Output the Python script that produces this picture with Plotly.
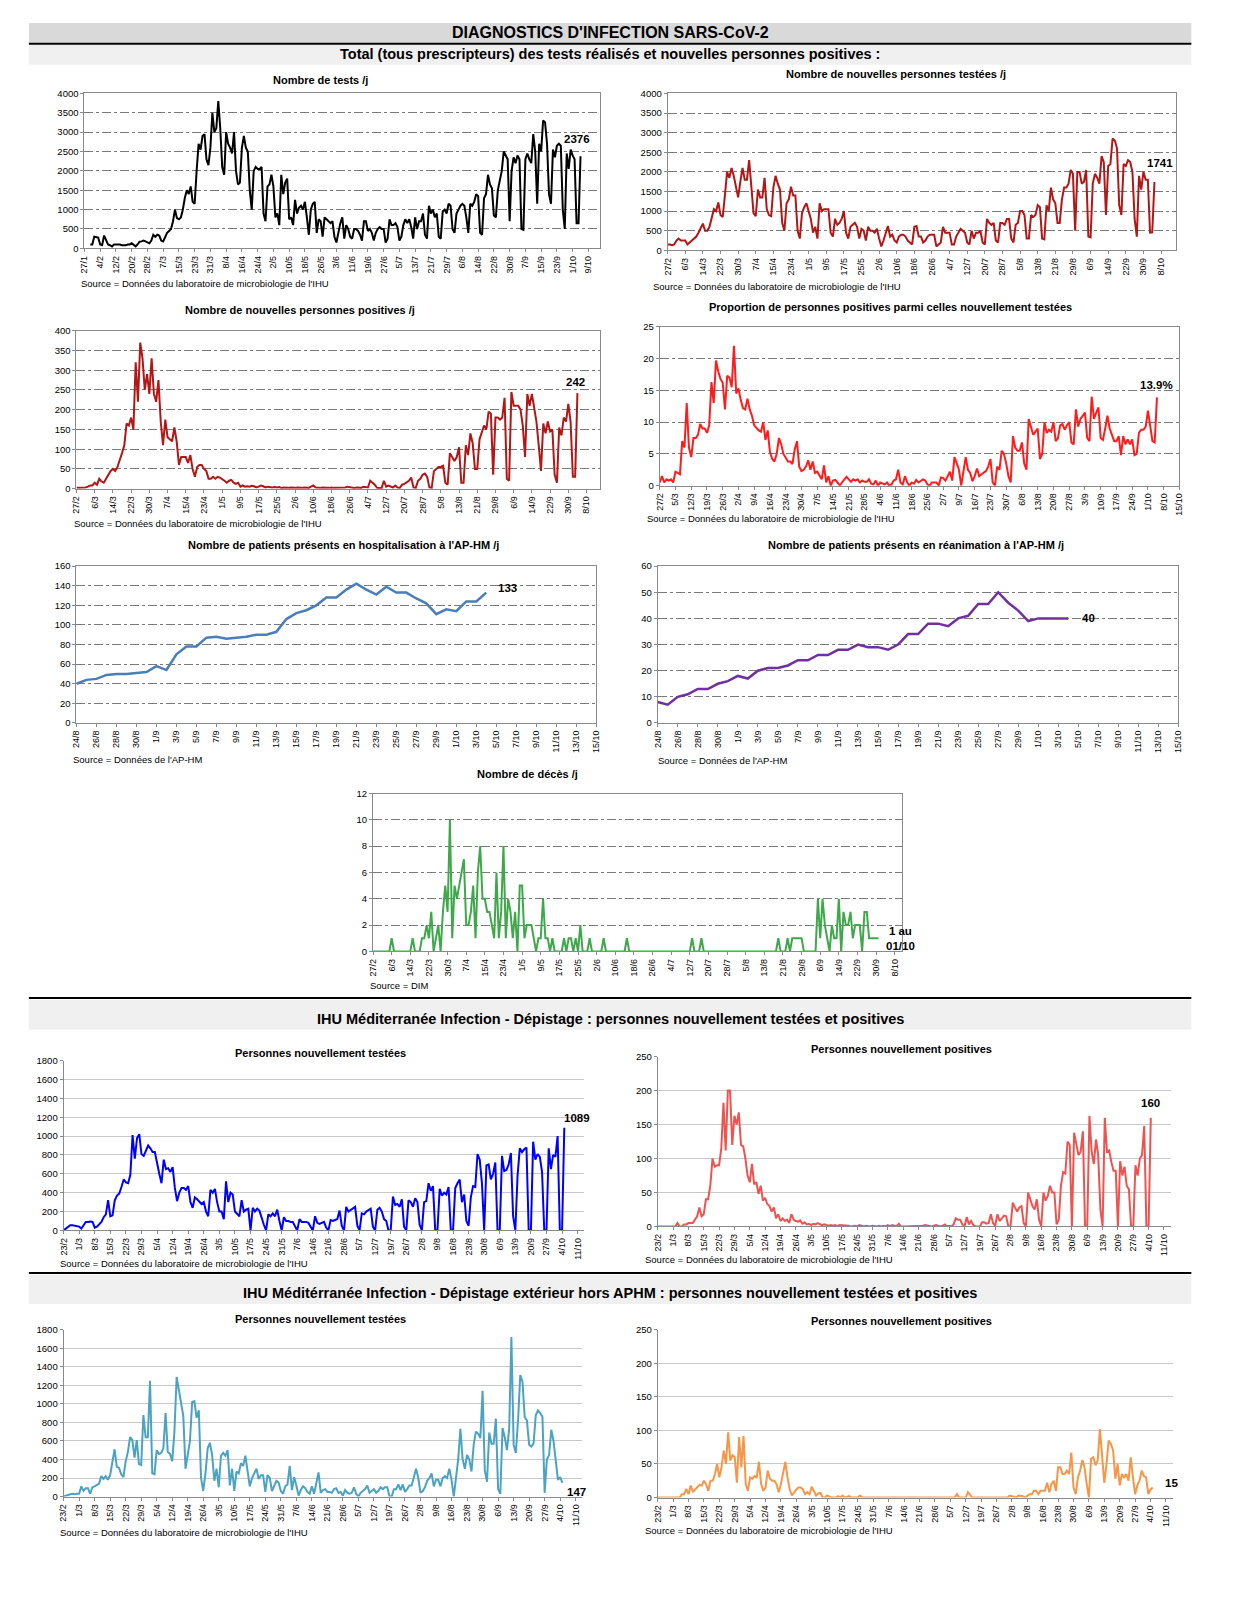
import plotly.graph_objects as go
import pandas as pd

# page is 1247x1600 with an 8px body margin: figure sized to fit without scrolling
OFF = 8
W, H = 1231, 1570

# ---------------- DATA ----------------
tests_start = "2020-01-30"
tests = [100, 100,
         300, 290, 280, 100, 80, 330, 200, 100, 80, 50, 100, 100, 100, 100, 80, 80, 80, 100, 100, 130, 80, 50, 100, 170, 180, 200, 180, 150, 130,
         200, 350, 300, 350, 330, 200, 180, 300, 400, 450, 500, 700, 1000, 780, 750, 800, 1000, 1300, 1500, 1400, 1600, 1200, 1150, 2000, 2700, 2550, 2900, 2950, 2300, 2150, 2600,
         3500, 3000, 3100, 3800, 3100, 2100, 1900, 3000, 2700, 2600, 2450, 3000, 2000, 1650, 1700, 2600, 2900, 2600, 2500, 1500, 1000, 2000, 2100, 2050, 2050, 2100, 900, 700, 1600, 1650,
         1900, 1600, 800, 900, 600, 1900, 1400, 1700, 1800, 750, 800, 600, 1250, 900, 1050, 1100, 1000, 1200, 800, 350, 1000, 1150, 1200, 400, 750, 700, 300, 800, 750, 700, 650,
         700, 300, 150, 400, 650, 800, 250, 600, 500, 300, 250, 500, 500, 450, 350, 200, 700, 700, 450, 500, 400, 200, 400, 500, 550, 500, 500, 150, 250, 750,
         600, 600, 650, 550, 200, 300, 600, 750, 650, 750, 550, 250, 800, 500, 700, 700, 900, 350, 250, 1100, 900, 1000, 800, 900, 300, 250, 950, 1000, 900, 1150, 1100,
         500, 400, 900, 1000, 1100, 1150, 1100, 800, 400, 1150, 1100, 1200, 1400, 1350, 400, 350, 1300, 1400, 1900, 1650, 1550, 850, 800, 1500, 1800, 2000, 2500, 2400, 2300, 700, 2000,
         2350, 2200, 2400, 2300, 500, 480, 2300, 2450, 2300, 2200, 2950, 2500, 1150, 2700, 2500, 3300, 3250, 2700, 1400, 1150, 2550, 2350, 2650, 2700, 2650, 1000, 500, 2450, 2050, 2550,
         2400, 2300, 650, 650, 2376]

new_tested_start = "2020-02-27"
new_tested = [150, 150, 130,
              150, 250, 300, 250, 250, 250, 150, 200, 250, 300, 350, 450, 550, 680, 500, 500, 600, 800, 1050, 1000, 1220, 900, 850, 1400, 2000, 1850, 2100, 1900, 1650, 1350, 1750,
              2100, 1800, 1800, 2300, 1600, 950, 870, 1550, 1350, 1350, 1850, 1050, 900, 870, 1600, 1900, 1700, 1550, 700, 500, 1200, 1300, 1620, 1400, 1400, 500, 300, 950, 1100, 1200,
              1000, 800, 450, 600, 300, 1200, 1000, 1050, 1050, 1050, 450, 350, 800, 650, 700, 800, 1000, 450, 300, 600, 650, 700, 600, 300, 550, 500, 250, 600, 500, 500, 450,
              550, 300, 100, 250, 450, 620, 350, 400, 250, 200, 350, 400, 400, 350, 250, 200, 150, 600, 620, 350, 350, 200, 250, 350, 400, 400, 400, 100, 150, 200,
              600, 450, 450, 450, 150, 150, 350, 450, 550, 500, 450, 200, 150, 500, 300, 450, 450, 500, 200, 150, 800, 700, 650, 700, 250, 200, 700, 700, 650, 800, 800,
              300, 200, 650, 700, 1000, 1000, 900, 300, 300, 900, 850, 900, 1150, 1100, 300, 280, 1150, 1000, 1600, 1300, 1200, 700, 700, 1300, 1600, 1600, 1700, 2050, 1950, 500, 2000,
              2000, 1700, 1750, 2050, 350, 330, 1700, 1950, 1850, 1700, 2400, 2250, 900, 2150, 2200, 2850, 2800, 2600, 1150, 900, 2200, 2150, 2300, 2250, 2000, 800, 350, 1900, 1550, 2000,
              1800, 1800, 450, 460, 1741]

new_pos_start = "2020-02-27"
new_pos = [2, 2, 2,
           2, 3, 5, 8, 8, 15, 10, 25, 18, 15, 25, 35, 45, 50, 45, 55, 70, 90, 110, 165, 160, 180, 150, 320, 220, 370, 330, 250, 290, 240, 330,
           240, 220, 275, 170, 110, 175, 130, 125, 120, 155, 120, 60, 80, 80, 80, 65, 85, 50, 30, 55, 60, 60, 50, 45, 25, 25, 30, 25, 30, 28,
           25, 20, 15, 20, 22, 15, 12, 15, 5, 8, 5, 6, 5, 7, 6, 3, 5, 8, 6, 3, 5, 4, 3, 4, 3, 4, 2, 3, 2, 2, 3,
           2, 2, 3, 2, 2, 3, 2, 2, 5, 8, 3, 2, 2, 3, 2, 2, 2, 3, 2, 2, 3, 2, 2, 3, 5, 4, 2, 2, 3, 3,
           2, 5, 3, 3, 20, 15, 10, 2, 2, 1, 20, 5, 8, 5, 3, 8, 3, 2, 10, 12, 15, 20, 28, 3, 2, 20, 25, 35, 38, 30, 3,
           2, 45, 50, 55, 55, 58, 15, 10, 90, 80, 70, 80, 105, 15, 15, 110, 85, 140, 115, 50, 50, 125, 140, 160, 150, 195, 190, 35, 180, 180, 175,
           180, 230, 25, 20, 245, 210, 210, 210, 200, 160, 80, 240, 210, 240, 205, 170, 110, 45, 165, 140, 170, 145, 150, 35, 15, 155, 135, 180, 170, 215,
           170, 30, 30, 242]

prop_start = "2020-02-27"
prop = [0.5, 1.5, 0.5,
        1, 0.8, 1, 0.5, 2.2, 2.0, 1.8, 7, 6, 13, 6, 4.5, 7.5, 7.5, 8, 9.7, 9, 9, 8.3, 9.5, 16.3, 13, 19.7, 18, 16.8, 16.2, 12, 17.3, 17, 15.5, 22,
        14.5, 15.3, 13.5, 12.2, 12, 13.7, 12, 11, 9.5, 9, 8.7, 8.5, 10, 7.2, 8.7, 5.3, 4.2, 3.8, 5, 7.5, 6.5, 5, 4.3, 3.8, 3.8, 3.4, 5.7, 7, 3, 2.3,
        2.5, 3, 4, 2.5, 3.8, 2, 2.2, 1.5, 1, 3.2, 0.5, 1.5, 0, 0.8, 0.9, 0.5, 0, 0.5, 1, 1.4, 1, 0.6, 1, 0.8, 1, 0.5, 0.8, 0.6, 0.6, 1, 0.3,
        0.2, 0.8, 0, 0.5, 0.3, 0.2, 0.5, 0, 0.2, 0.8, 1, 2.5, 0.5, 0.2, 1.5, 0.5, 0, 0.5, 0.3, 0.9, 0.5, 0.8, 1, 0.8, 0.2, 0, 0.5, 0.5, 0.5, 0,
        1.3, 1.2, 0.8, 1.5, 2.2, 0.8, 4.5, 3.5, 2.5, 0, 2, 4.5, 2.5, 2, 0.7, 1.5, 2.7, 1.5, 1.8, 2, 2.3, 3, 4.2, 0.5, 0, 3, 2.5, 5.5, 5, 3.5, 1.5,
        0.5, 7.8, 6, 5.5, 5.5, 6.8, 3.5, 2.5, 10.5, 9, 8, 8.5, 9, 4.2, 5, 10, 8.3, 8.8, 8.5, 10, 7, 7.5, 9.5, 9.7, 8.8, 9.5, 10, 6.8, 6.5, 12, 9.3,
        10.5, 11, 11.5, 7.5, 7, 14, 10.5, 11.5, 12.3, 7.5, 7.2, 9, 11, 9, 8, 7, 7, 7.8, 4.8, 7.8, 6.5, 7.3, 6.5, 7.3, 4.8, 5, 8.3, 8.8, 8.8, 9.3,
        11.8, 9, 7, 6.8, 13.9]

hosp_start = "2020-08-24"
hosp = [40, 44, 45, 49, 50, 50, 51, 52, 58, 54, 70, 78, 78, 87, 88, 86, 87, 88, 90, 90, 93, 106, 112, 115, 120,
        128, 128, 136, 142, 136, 131, 139, 133, 133, 127, 122, 111, 116, 114, 124, 124, 133]

rea_start = "2020-08-24"
rea = [8, 7, 10, 11, 13, 13, 15, 16, 18, 17, 20, 21, 21, 22, 24, 24, 26, 26, 28, 28, 30, 29, 29, 28, 30,
       34, 34, 38, 38, 37, 40, 41, 45.5, 45.5, 50, 46, 43, 39, 40, 40, 40, 40]

deaths_start = "2020-02-27"
deaths = [0, 0, 0,
          0, 0, 0, 0, 0, 1, 0, 0, 0, 0, 0, 0, 0, 0, 1, 0, 0, 0, 1, 1, 2, 1, 3, 0, 1, 2, 0, 3, 5, 3, 10,
          1, 5, 4, 5, 6, 7, 2, 2, 3, 5, 1, 6, 8, 4, 4, 3, 3, 2, 1, 6, 1, 3, 8, 1, 4, 3, 1, 3, 0, 5,
          5, 1, 2, 2, 2, 1, 0, 1, 1, 4, 1, 1, 0, 1, 0, 0, 0, 0, 1, 0, 1, 1, 0, 1, 0, 2, 0, 0, 0, 1, 0,
          0, 0, 0, 0, 1, 0, 0, 0, 0, 0, 0, 0, 0, 0, 1, 0, 0, 0, 0, 0, 0, 0, 0, 0, 0, 0, 0, 0, 0, 0,
          0, 0, 0, 0, 0, 0, 0, 0, 0, 0, 0, 0, 1, 0, 0, 0, 1, 0, 0, 0, 0, 0, 0, 0, 0, 0, 0, 0, 0, 0, 0,
          0, 0, 0, 0, 0, 0, 0, 0, 0, 0, 0, 0, 0, 0, 0, 0, 0, 0, 1, 0, 0, 0, 1, 0, 1, 1, 1, 1, 1, 0, 0,
          0, 0, 0, 0, 4, 1, 4, 2, 1, 0, 2, 1, 1, 4, 0, 3, 2, 2, 3, 1, 2, 2, 2, 0, 3, 3, 1, 1, 1, 1,
          1]

ihu_tested_start = "2020-02-23"
ihu_tested = [0, 20, 40, 55, 55, 50, 50,
              40, 20, 50, 90, 90, 95, 90, 30, 40, 70, 90, 140, 170, 320, 150, 160, 320, 370, 390, 460, 540, 510, 500, 590, 1010, 760, 980, 1020, 810, 790, 850,
              900, 870, 830, 830, 700, 600, 500, 750, 650, 660, 620, 670, 450, 310, 400, 450, 450, 430, 470, 300, 240, 350, 330, 300, 280, 300, 200, 150, 430, 400,
              440, 300, 200, 200, 120, 520, 300, 400, 380, 200, 180, 150, 320, 200, 220, 230, 0, 240, 200, 230, 210, 130, 60, 0, 170, 150, 180, 150, 220, 100, 0,
              140, 100, 100, 90, 90, 40, 0, 120, 90, 90, 90, 80, 40, 0, 150, 80, 70, 80, 90, 30, 0, 110, 100, 110, 120, 210, 50, 0, 250, 200,
              220, 230, 250, 50, 0, 180, 170, 200, 220, 230, 40, 0, 220, 240, 200, 120, 100, 0, 0, 360, 270, 280, 250, 330, 40, 0, 320, 300, 250, 340, 300,
              60, 0, 300, 310, 500, 420, 470, 0, 0, 440, 370, 400, 380, 460, 0, 0, 450, 500, 540, 300, 380, 100, 50, 350, 470, 460, 810, 750, 500, 0, 690,
              700, 540, 600, 720, 0, 0, 790, 630, 640, 700, 820, 150, 0, 580, 870, 830, 860, 880, 0, 0, 940, 750, 810, 780, 620, 0, 0, 870, 650, 800,
              780, 1000, 0, 0, 1089]

ihu_pos_start = "2020-02-23"
ihu_pos = [0, 0, 0, 0, 0, 0, 0,
           0, 0, 5, 0, 0, 3, 3, 5, 5, 5, 10, 15, 28, 15, 18, 40, 40, 60, 100, 88, 90, 90, 115, 182, 112, 200, 200, 120, 163, 150, 168,
           120, 118, 100, 75, 65, 92, 62, 65, 48, 60, 38, 42, 33, 30, 22, 28, 12, 18, 8, 12, 8, 10, 5, 18, 10, 8, 7, 9, 4, 6,
           3, 4, 2, 4, 3, 5, 4, 2, 3, 2, 1, 2, 1, 2, 0, 2, 2, 1, 2, 1, 0, 1, 1, 0, 2, 1, 0, 1, 0, 0, 1,
           0, 0, 1, 0, 1, 0, 2, 0, 2, 1, 0, 4, 0, 0, 0, 0, 0, 0, 0, 0, 1, 0, 1, 2, 1, 0, 0, 1, 2, 1,
           0, 1, 3, 0, 1, 0, 3, 12, 10, 10, 3, 0, 14, 3, 8, 2, 0, 0, 0, 6, 6, 4, 5, 18, 5, 1, 18, 8, 12, 16, 15,
           0, 0, 35, 28, 22, 28, 30, 5, 0, 50, 40, 30, 25, 40, 10, 0, 50, 38, 45, 60, 50, 50, 3, 10, 60, 80, 78, 125, 120, 0, 138,
           120, 105, 110, 140, 0, 0, 163, 110, 92, 128, 105, 25, 0, 160, 110, 112, 95, 82, 82, 0, 96, 75, 88, 60, 55, 0, 0, 90, 75, 100,
           105, 148, 0, 0, 160]

ext_tested_start = "2020-02-23"
ext_tested = [0, 10, 20, 25, 30, 25, 30,
              30, 110, 60, 90, 90, 30, 100, 110, 130, 140, 220, 190, 220, 180, 230, 380, 510, 320, 310, 240, 210, 380, 480, 640, 610, 420, 610, 350, 340, 880, 640,
              640, 1250, 250, 240, 500, 460, 470, 520, 900, 480, 460, 380, 700, 1290, 1150, 1000, 870, 300, 440, 600, 1020, 1030, 850, 930, 200, 60, 250, 520, 580, 450,
              170, 300, 100, 440, 470, 440, 500, 120, 300, 60, 270, 250, 360, 330, 440, 280, 110, 200, 250, 300, 190, 230, 230, 50, 230, 200, 60, 120, 170, 150, 60,
              30, 110, 130, 330, 70, 210, 120, 10, 70, 110, 90, 50, 30, 110, 30, 130, 260, 40, 70, 80, 50, 50, 40, 80, 90, 40, 50, 10, 70, 40,
              30, 40, 100, 30, 0, 40, 60, 80, 120, 40, 60, 80, 40, 60, 100, 80, 100, 100, 0, 0, 80, 80, 130, 70, 130, 50, 80, 120, 120, 200, 300,
              200, 40, 60, 100, 170, 200, 250, 110, 180, 180, 110, 200, 220, 200, 300, 180, 0, 200, 400, 730, 400, 300, 450, 400, 270, 560, 700, 680, 630, 1140, 280,
              160, 690, 570, 570, 840, 80, 30, 740, 640, 500, 730, 1720, 560, 470, 820, 1310, 1240, 860, 820, 560, 540, 570, 880, 930, 900, 860, 40, 400, 450, 720,
              600, 350, 180, 210, 147]

ext_pos_start = "2020-02-23"
ext_pos = [0, 0, 0, 0, 0, 1, 0,
           0, 0, 0, 0, 5, 5, 13, 5, 18, 8, 12, 15, 19, 18, 25, 20, 10, 25, 25, 35, 50, 30, 45, 70, 50, 97, 55, 63, 60, 22, 90,
           45, 92, 20, 10, 30, 28, 32, 30, 53, 20, 10, 15, 40, 28, 25, 25, 20, 8, 20, 35, 53, 30, 12, 3, 8, 12, 15, 15, 12, 5,
           8, 5, 16, 10, 3, 6, 7, 0, 0, 3, 1, 0, 0, 0, 2, 0, 3, 0, 1, 2, 0, 0, 1, 0, 3, 0, 0, 0, 0, 0, 0,
           0, 0, 0, 0, 0, 1, 0, 0, 0, 0, 0, 0, 0, 0, 0, 0, 0, 0, 0, 0, 1, 0, 0, 0, 0, 0, 0, 0, 0, 0,
           0, 0, 0, 0, 0, 0, 0, 5, 0, 0, 0, 0, 8, 3, 0, 0, 0, 1, 0, 0, 0, 0, 0, 0, 0, 0, 0, 0, 0, 0, 0,
           3, 2, 0, 0, 3, 3, 2, 0, 2, 5, 5, 10, 10, 5, 10, 10, 10, 22, 8, 20, 25, 10, 45, 45, 35, 35, 40, 35, 67, 15, 5,
           30, 40, 56, 45, 20, 0, 58, 60, 48, 55, 102, 60, 22, 50, 85, 80, 70, 28, 50, 18, 35, 30, 35, 25, 60, 30, 5, 18, 25, 40,
           32, 30, 5, 12, 15]

# ---------------- FIGURE ----------------
FONT = "Liberation Sans, Arial, sans-serif"
SRC_FONT = "Liberation Sans Narrow, Arial Narrow, Liberation Sans, sans-serif"
DAY = 86400000

fig = go.Figure()
layout = {}
annotations = []
shapes = []


def px(x):
    return (x - OFF) / W


def py(y):
    return 1 - (y - OFF) / H


def text(x, y, s, size=11, bold=True, anchor="center", font=FONT, color="black"):
    annotations.append(dict(xref="paper", yref="paper", x=px(x), y=py(y), text=("<b>%s</b>" % s) if bold else s,
                            showarrow=False, xanchor=anchor, yanchor="middle",
                            font=dict(family=font, size=size, color=color)))


def panel(i, start, vals, color, lw, box, xr, tick0, dtick_days, yr, ydtick, boxed=True,
          label=None, lshift=(0, 0), lanchor="center"):
    dates = pd.date_range(start, periods=len(vals), freq="D")
    xa = "x" if i == 1 else "x%d" % i
    ya = "y" if i == 1 else "y%d" % i
    fig.add_trace(go.Scatter(x=dates, y=vals, mode="lines", line=dict(color=color, width=lw),
                             xaxis=xa, yaxis=ya, showlegend=False, hoverinfo="skip"))
    x0, x1, yt, yb = box
    axc = "#8a8a8a"
    layout["xaxis" if i == 1 else "xaxis%d" % i] = dict(
        domain=[px(x0), px(x1)], anchor=ya, type="date", range=xr, tick0=tick0, dtick=dtick_days * DAY,
        tickformat="%-d/%-m", tickangle=-90, tickfont=dict(family=FONT, size=9, color="black"),
        showgrid=False, zeroline=False, showline=True, linecolor=axc, linewidth=1, mirror=boxed,
        ticks="outside", ticklen=3, tickcolor=axc)
    ydict = dict(domain=[py(yb), py(yt)], anchor=xa, range=yr, dtick=ydtick, tick0=0,
                 tickfont=dict(family=FONT, size=9.5, color="black"),
                 showgrid=True, zeroline=False, showline=True, linecolor=axc, linewidth=1, mirror=boxed,
                 ticks="outside", ticklen=3, tickcolor=axc)
    if boxed:
        ydict.update(gridcolor="#7a7a7a", griddash="dashdot", gridwidth=0.8)
    else:
        ydict.update(gridcolor="#c8c8c8", gridwidth=1)
    layout["yaxis" if i == 1 else "yaxis%d" % i] = ydict
    if label is not None:
        annotations.append(dict(xref=xa, yref=ya, x=dates[-1], y=vals[-1], text="<b>%s</b>" % label,
                                showarrow=False, xanchor=lanchor, yanchor="middle",
                                xshift=lshift[0], yshift=lshift[1],
                                font=dict(family=FONT, size=11.5, color="black")))


# header bands
shapes.append(dict(type="rect", xref="paper", yref="paper", x0=px(24), x1=px(1196), y0=py(37), y1=py(17),
                   fillcolor="#d9d9d9", line=dict(width=0), layer="below"))
shapes.append(dict(type="rect", xref="paper", yref="paper", x0=px(24), x1=px(1196), y0=py(59), y1=py(39),
                   fillcolor="#f0f0f0", line=dict(width=0), layer="below"))
shapes.append(dict(type="line", xref="paper", yref="paper", x0=px(24), x1=px(1196), y0=py(38), y1=py(38),
                   line=dict(color="black", width=2)))
for ly, b0, b1 in [(999, 1001, 1031), (1276, 1278, 1307)]:
    shapes.append(dict(type="rect", xref="paper", yref="paper", x0=px(24), x1=px(1196), y0=py(b1), y1=py(b0),
                       fillcolor="#f0f0f0", line=dict(width=0), layer="below"))
    shapes.append(dict(type="line", xref="paper", yref="paper", x0=px(24), x1=px(1196), y0=py(ly), y1=py(ly),
                       line=dict(color="black", width=2)))

text(610, 27, "DIAGNOSTICS D'INFECTION SARS-CoV-2", size=16)
text(610, 48, "Total (tous prescripteurs) des tests réalisés et nouvelles personnes positives :", size=14.5)
text(610, 1020, "IHU Méditerranée Infection - Dépistage : personnes nouvellement testées et positives", size=14.5)
text(610, 1296, "IHU Méditérranée Infection - Dépistage extérieur hors APHM : personnes nouvellement testées et positives", size=14.5)

SRC_IHU = "Source = Données du laboratoire de microbiologie de l'IHU"

# Panel 1
panel(1, tests_start, tests, "#000000", 2, (80, 600, 88, 244), ["2020-01-27", "2020-10-15"], "2020-01-27", 8,
      [0, 4000], 500, label="2376", lshift=(-4, 17))
text(318, 74, "Nombre de tests /j", size=11)
text(75, 279, SRC_IHU, size=9.5, bold=False, anchor="left", font=SRC_FONT)

# Panel 2
panel(2, new_tested_start, new_tested, "#b31616", 2, (668, 1181, 88, 246), ["2020-02-27", "2020-10-15"],
      "2020-02-27", 8, [0, 4000], 500, label="1741", lshift=(6, 19))
text(898, 68, "Nombre de nouvelles personnes testées /j", size=11)
text(651, 282, SRC_IHU, size=9.5, bold=False, anchor="left", font=SRC_FONT)

# Panel 3
panel(3, new_pos_start, new_pos, "#b31616", 2, (72, 600, 327, 486), ["2020-02-27", "2020-10-14"],
      "2020-02-27", 8, [0, 400], 50, label="242", lshift=(-2, 11))
text(297, 306, "Nombre de nouvelles personnes positives /j", size=11)
text(67, 521, SRC_IHU, size=9.5, bold=False, anchor="left", font=SRC_FONT)

# Panel 4
panel(4, prop_start, prop, "#ff1c1c", 2, (660, 1184, 323, 483), ["2020-02-27", "2020-10-15"],
      "2020-02-27", 7, [0, 25], 5, label="13.9%", lshift=(0, 12))
text(893, 303, "Proportion de personnes positives parmi celles nouvellement testées", size=11)
text(645, 516, SRC_IHU, size=9.5, bold=False, anchor="left", font=SRC_FONT)

# Panel 5
panel(5, hosp_start, hosp, "#4a7ebb", 2.5, (72, 596, 564, 722), ["2020-08-24", "2020-10-15"],
      "2020-08-24", 2, [0, 160], 20, label="133", lshift=(10, 5), lanchor="left")
text(341, 543, "Nombre de patients présents en hospitalisation à l'AP-HM /j", size=11)
text(66, 759, "Source = Données de l'AP-HM", size=9.5, bold=False, anchor="left", font=SRC_FONT)

# Panel 6
panel(6, rea_start, rea, "#7030a0", 2.5, (658, 1183, 564, 722), ["2020-08-24", "2020-10-15"],
      "2020-08-24", 2, [0, 60], 10, label="40", lshift=(12, 0), lanchor="left")
text(918, 543, "Nombre de patients présents en réanimation à l'AP-HM /j", size=11)
text(656, 760, "Source = Données de l'AP-HM", size=9.5, bold=False, anchor="left", font=SRC_FONT)

# Panel 7
panel(7, deaths_start, deaths, "#3fa84a", 2, (371, 904, 793, 952), ["2020-02-27", "2020-10-11"],
      "2020-02-27", 8, [0, 12], 2, label="1 au<br>01/10", lshift=(6, 0), lanchor="left")
text(527, 773, "Nombre de décès /j", size=11)
text(366, 986, "Source = DIM", size=9.5, bold=False, anchor="left", font=SRC_FONT)

# Panel 8
panel(8, ihu_tested_start, ihu_tested, "#0000ff", 2, (59, 584, 1062, 1233), ["2020-02-23", "2020-10-14"],
      "2020-02-23", 7, [0, 1800], 200, boxed=False, label="1089", lshift=(13, 10))
text(318, 1054, "Personnes nouvellement testées", size=11)
text(53, 1266, SRC_IHU, size=9.5, bold=False, anchor="left", font=SRC_FONT)

# Panel 9
panel(9, ihu_pos_start, ihu_pos, "#ef5350", 2, (658, 1175, 1058, 1229), ["2020-02-23", "2020-10-14"],
      "2020-02-23", 7, [0, 250], 50, boxed=False, label="160", lshift=(0, 15))
text(904, 1050, "Personnes nouvellement positives", size=11)
text(643, 1262, SRC_IHU, size=9.5, bold=False, anchor="left", font=SRC_FONT)

# Panel 10
panel(10, ext_tested_start, ext_tested, "#4ba3c3", 2, (59, 582, 1333, 1501), ["2020-02-23", "2020-10-14"],
      "2020-02-23", 7, [0, 1800], 200, boxed=False, label="147", lshift=(14, -9))
text(318, 1322, "Personnes nouvellement testées", size=11)
text(53, 1537, SRC_IHU, size=9.5, bold=False, anchor="left", font=SRC_FONT)

# Panel 11
panel(11, ext_pos_start, ext_pos, "#f79646", 2, (658, 1177, 1333, 1502), ["2020-02-23", "2020-10-14"],
      "2020-02-23", 7, [0, 250], 50, boxed=False, label="15", lshift=(10, 4), lanchor="left")
text(904, 1324, "Personnes nouvellement positives", size=11)
text(643, 1535, SRC_IHU, size=9.5, bold=False, anchor="left", font=SRC_FONT)

fig.update_layout(**layout)
fig.update_layout(width=W, height=H, autosize=False, margin=dict(l=0, r=0, t=0, b=0),
                  paper_bgcolor="white", plot_bgcolor="white", showlegend=False,
                  annotations=annotations, shapes=shapes, hovermode=False)

fig.write_html("out.html")
